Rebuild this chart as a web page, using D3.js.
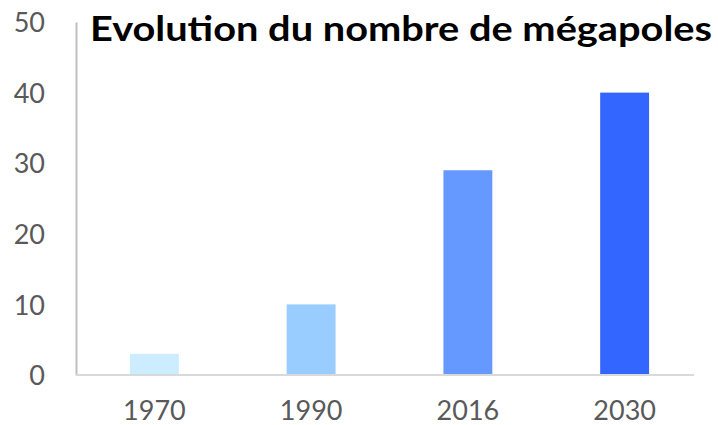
<!DOCTYPE html>
<html>
<head>
<meta charset="utf-8">
<script src="https://cdn.jsdelivr.net/npm/d3@7/dist/d3.min.js"></script>
<style>
  html, body { margin: 0; padding: 0; background: #fff; }
  svg { display: block; }
</style>
</head>
<body>
<svg id="chart" width="718" height="425"></svg>
<script>
const categories = ["1970", "1990", "2016", "2030"];
const values = [3, 10, 29, 40];
const barColors = ["#CCECFF", "#99CCFF", "#6699FF", "#3366FF"];
const yTicks = [0, 10, 20, 30, 40, 50];
const title = "Evolution du nombre de mégapoles";

(function () {
const svg = d3.select("#chart");
const mLeft = 76, mRight = 703, mTop = 22, mBottom = 375;

const x = d3.scaleBand().domain(categories).range([mLeft, mRight])
  .paddingInner(0.688).paddingOuter(0.344);
const y = d3.scaleLinear().domain([0, 50]).range([mBottom, mTop]);

// bars
svg.append("g").selectAll("rect").data(categories).join("rect")
  .attr("x", d => x(d))
  .attr("width", x.bandwidth())
  .attr("y", (d, i) => y(values[i]))
  .attr("height", (d, i) => y(0) - y(values[i]))
  .attr("fill", (d, i) => barColors[i]);

// y axis
const yAxis = d3.axisLeft(y).tickValues(yTicks).tickSize(0).tickPadding(31);
const gy = svg.append("g").attr("transform", `translate(${mLeft},0)`).call(yAxis);
gy.select(".domain").attr("stroke", "#BFBFBF").attr("stroke-width", 2);
gy.selectAll("text")
  .attr("font-family", "Lato, 'Open Sans', sans-serif")
  .attr("font-size", 27)
  .attr("fill", "#595959")
  .attr("dy", "0.36em");

// x axis
const xAxis = d3.axisBottom(x).tickSize(0).tickPadding(26);
const gx = svg.append("g").attr("transform", `translate(0,${mBottom})`).call(xAxis);
gx.select(".domain").attr("stroke", "#D9D9D9").attr("stroke-width", 2)
  .attr("d", `M${mLeft},0H694`);
gx.selectAll("text")
  .attr("font-family", "Lato, 'Open Sans', sans-serif")
  .attr("font-size", 27)
  .attr("fill", "#595959");

// title
svg.append("text")
  .attr("x", 90)
  .attr("y", 41)
  .attr("font-family", "Lato, 'Open Sans', sans-serif")
  .attr("font-weight", "bold")
  .attr("font-size", 34)
  .attr("fill", "#000")
  .attr("textLength", 622)
  .attr("lengthAdjust", "spacingAndGlyphs")
  .text(title);
})();
</script>
</body>
</html>
